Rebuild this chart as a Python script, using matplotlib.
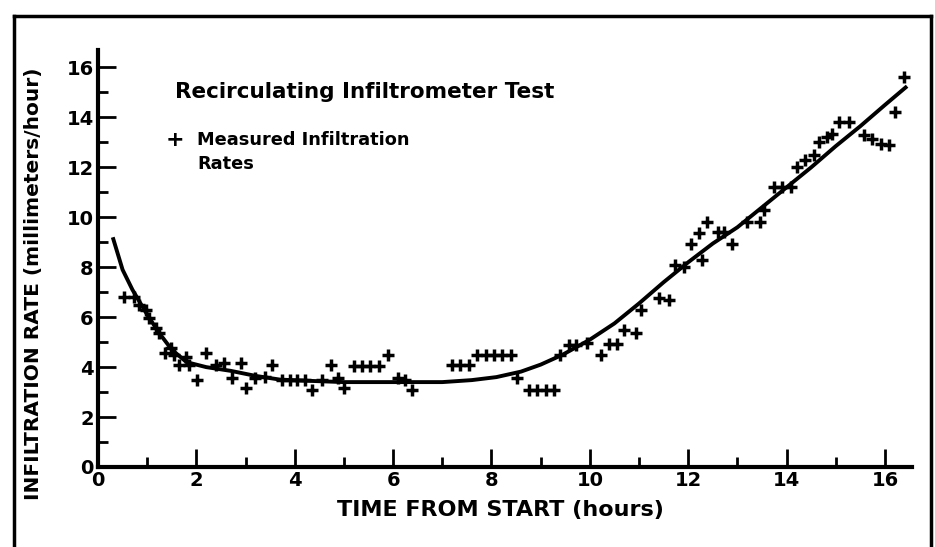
import matplotlib
matplotlib.use('Agg')
import matplotlib.pyplot as plt
from matplotlib.lines import Line2D

# measured infiltration rates (hours, mm/hour)
hours = [0.53, 0.73, 0.83, 0.97, 1.04, 1.17, 1.24, 1.37, 1.48, 1.54, 1.65, 1.78,
         1.85, 2.01, 2.19, 2.39, 2.56, 2.73, 2.9, 3.0, 3.2, 3.4, 3.54, 3.74,
         3.9, 4.05, 4.2, 4.35, 4.56, 4.73, 4.88, 5.0, 5.2, 5.37, 5.54, 5.71,
         5.9, 6.09, 6.25, 6.39, 7.2, 7.37, 7.54, 7.71, 7.88, 8.05, 8.22, 8.39,
         8.52, 8.76, 8.93, 9.1, 9.27, 9.4, 9.57, 9.71, 9.95, 10.22, 10.39, 10.56,
         10.69, 10.93, 11.03, 11.4, 11.6, 11.74, 11.91, 12.05, 12.22, 12.28, 12.38, 12.6,
         12.72, 12.89, 13.2, 13.45, 13.54, 13.74, 13.91, 14.08, 14.21, 14.38, 14.55, 14.65,
         14.82, 14.92, 15.06, 15.26, 15.57, 15.74, 15.91, 16.08, 16.21, 16.38]
rates = [6.8, 6.8, 6.5, 6.3, 5.96, 5.55, 5.35, 4.55, 4.75, 4.5, 4.1, 4.4,
         4.1, 3.5, 4.55, 4.1, 4.15, 3.55, 4.15, 3.15, 3.55, 3.6, 4.1, 3.5,
         3.5, 3.5, 3.5, 3.1, 3.5, 4.1, 3.55, 3.15, 4.05, 4.05, 4.05, 4.05,
         4.5, 3.55, 3.5, 3.08, 4.1, 4.1, 4.1, 4.48, 4.48, 4.48, 4.48, 4.48,
         3.55, 3.08, 3.08, 3.08, 3.08, 4.48, 4.88, 4.88, 4.95, 4.48, 4.92, 4.92,
         5.48, 5.35, 6.28, 6.75, 6.7, 8.08, 8.0, 8.95, 9.38, 8.28, 9.8, 9.4,
         9.4, 8.95, 9.8, 9.8, 10.28, 11.2, 11.2, 11.2, 12.0, 12.28, 12.48, 13.0,
         13.2, 13.33, 13.8, 13.8, 13.28, 13.15, 12.95, 12.88, 14.2, 15.6]

# fitted curve
curve_t = [0.3, 0.5, 0.7, 1.0, 1.25, 1.5, 1.8, 2.2, 2.7, 3.2, 3.7, 4.3, 5.0,
           6.0, 7.0, 7.6, 8.1, 8.6, 9.0, 9.45, 10.0, 10.5, 11.0, 11.5, 12.0,
           12.5, 13.0, 13.5, 14.0, 14.5, 15.0, 15.5, 16.0, 16.45]
curve_r = [9.2, 7.9, 7.1, 6.1, 5.35, 4.7, 4.2, 4.0, 3.85, 3.65, 3.5, 3.45, 3.4,
           3.4, 3.4, 3.48, 3.6, 3.82, 4.1, 4.5, 5.1, 5.75, 6.55, 7.4, 8.2,
           8.95, 9.6, 10.4, 11.2, 12.0, 12.85, 13.65, 14.5, 15.25]

fig = plt.figure(figsize=(9.35, 5.47), dpi=100)
ax = fig.add_axes([98/935, 1 - 467/547, 814/935, 417/547])

ax.plot(curve_t, curve_r, color='black', lw=2.8, solid_capstyle='butt')
ax.plot(hours, rates, ls='none', marker='+', color='black', ms=8.5, mew=2.5)

ax.set_xlim(0, 16.55)
ax.set_ylim(0, 16.7)
ax.set_xticks(range(0, 17, 2))
ax.set_xticks(range(1, 17, 2), minor=True)
ax.set_yticks(range(0, 17, 2))
ax.set_yticks(range(1, 17, 2), minor=True)
ax.tick_params(which='major', direction='in', length=13, width=2, labelsize=14, pad=3)
ax.tick_params(which='minor', direction='in', length=7, width=2)
for lab in ax.get_xticklabels() + ax.get_yticklabels():
    lab.set_fontweight('bold')

for s in ['top', 'right']:
    ax.spines[s].set_visible(False)
for s in ['left', 'bottom']:
    ax.spines[s].set_linewidth(3)

ax.set_xlabel('TIME FROM START (hours)', fontsize=16, fontweight='bold', va='center')
ax.xaxis.set_label_coords(0.494, -0.103)
ax.set_ylabel('INFILTRATION RATE (millimeters/hour)', fontsize=14.5, fontweight='bold', va='center')
ax.yaxis.set_label_coords(-0.079, 0.44)

fig.text(175/935, 1 - 92/547, 'Recirculating Infiltrometer Test', fontsize=15.5,
         fontweight='bold', va='center', ha='left')
fig.text(175/935, 1 - 140/547, '+', fontsize=16, fontweight='bold', va='center', ha='center')
fig.text(197/935, 1 - 140/547, 'Measured Infiltration', fontsize=12.8,
         fontweight='bold', va='center', ha='left')
fig.text(197/935, 1 - 164/547, 'Rates', fontsize=12.8,
         fontweight='bold', va='center', ha='left')

# border around the figure
fig.add_artist(Line2D([14/935, 14/935], [0, 1 - 16/547], color='black', lw=2.5,
                      transform=fig.transFigure))
fig.add_artist(Line2D([14/935, 931/935], [1 - 16/547, 1 - 16/547], color='black', lw=2.5,
                      transform=fig.transFigure))
fig.add_artist(Line2D([931/935, 931/935], [0, 1 - 16/547], color='black', lw=2.5,
                      transform=fig.transFigure))

fig.savefig('out.png', dpi=100)
